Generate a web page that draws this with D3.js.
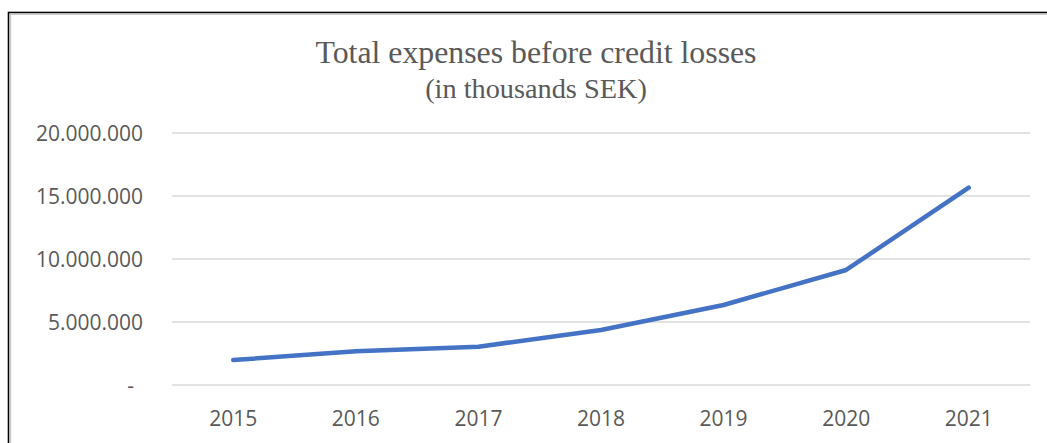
<!DOCTYPE html>
<html lang="en">
<head>
    <meta charset="UTF-8">
    <title>Total expenses before credit losses</title>
    <script src="https://d3js.org/d3.v7.min.js"></script>
    <style>
        body {
            margin: 0;
            background-color: #ffffff;
        }
        .grid-line {
            stroke: #d9d9d9;
            stroke-width: 1.3;
        }
        .tick-label {
            font-family: "Open Sans", sans-serif;
            font-size: 21px;
            fill: #595959;
        }
        .title {
            font-family: "Liberation Serif", "Times New Roman", serif;
            fill: #595959;
        }
    </style>
</head>
<body>

<svg id="chart" width="1047" height="443"></svg>

<script>
    // Daten
    const years = ["2015", "2016", "2017", "2018", "2019", "2020", "2021"];
    const expenses = [1980000, 2670000, 3040000, 4370000, 6350000, 9130000, 15660000];
    const yTicks = [0, 5000000, 10000000, 15000000, 20000000];
    const yTickLabels = ["-", "5.000.000", "10.000.000", "15.000.000", "20.000.000"];

    const svg = d3.select("#chart");

    // Rahmen
    svg.append("rect")
        .attr("x", 8.5).attr("y", 12.5)
        .attr("width", 1100).attr("height", 500)
        .attr("fill", "none")
        .attr("stroke", "#000")
        .attr("stroke-width", 1.6);
    svg.append("path")
        .attr("d", "M 10.5 500 L 10.5 14.3 L 1100 14.3")
        .attr("fill", "none")
        .attr("stroke", "#c8c8c8")
        .attr("stroke-width", 1.2);

    // Titel
    svg.append("text")
        .attr("class", "title")
        .attr("x", 536).attr("y", 63)
        .attr("font-size", "31.8px")
        .attr("text-anchor", "middle")
        .text("Total expenses before credit losses");
    svg.append("text")
        .attr("class", "title")
        .attr("x", 536).attr("y", 98)
        .attr("font-size", "28.3px")
        .attr("text-anchor", "middle")
        .text("(in thousands SEK)");

    // Skalen
    const x = d3.scalePoint()
        .domain(years)
        .range([172, 1030])
        .padding(0.5);

    const y = d3.scaleLinear()
        .domain([0, 20000000])
        .range([385, 133]);

    // Gitterlinien
    svg.selectAll(".grid-line")
        .data(yTicks)
        .join("line")
        .attr("class", "grid-line")
        .attr("x1", 172)
        .attr("x2", 1030)
        .attr("y1", d => y(d))
        .attr("y2", d => y(d));

    // Y-Achse Beschriftung
    svg.selectAll(".y-label")
        .data(yTicks)
        .join("text")
        .attr("class", "tick-label y-label")
        .attr("x", (d, i) => i === 0 ? 134 : 143)
        .attr("y", d => y(d))
        .attr("dy", "0.36em")
        .attr("text-anchor", "end")
        .text((d, i) => yTickLabels[i]);

    // X-Achse Beschriftung
    svg.selectAll(".x-label")
        .data(years)
        .join("text")
        .attr("class", "tick-label x-label")
        .attr("x", d => x(d))
        .attr("y", 426)
        .attr("text-anchor", "middle")
        .text(d => d);

    // Linie
    const line = d3.line()
        .x((d, i) => x(years[i]))
        .y(d => y(d));

    svg.append("path")
        .datum(expenses)
        .attr("d", line)
        .attr("fill", "none")
        .attr("stroke", "#4472c4")
        .attr("stroke-width", 4.5)
        .attr("stroke-linecap", "round")
        .attr("stroke-linejoin", "round");
</script>

</body>
</html>
